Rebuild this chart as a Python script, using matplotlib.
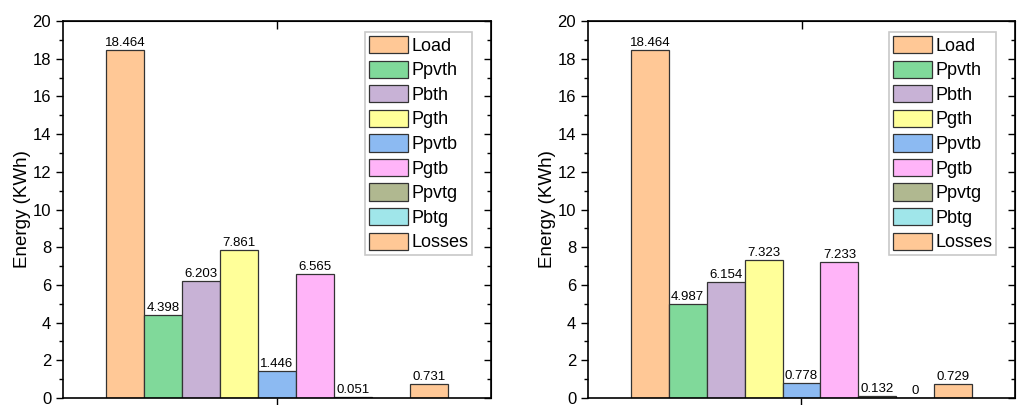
import numpy as np
import matplotlib.pyplot as plt
from matplotlib.patches import Patch

plt.rcParams['font.family'] = ['Liberation Sans', 'DejaVu Sans']

series = ['Load', 'Ppvth', 'Pbth', 'Pgth', 'Ppvtb', 'Pgtb', 'Ppvtg', 'Pbtg', 'Losses']
colors = ['#FFC896', '#80D99A', '#C8B2D6', '#FFFF99', '#8CBAF2',
          '#FFB4F8', '#B0B890', '#A0E6EA', '#FFC896']
left_vals = [18.464, 4.398, 6.203, 7.861, 1.446, 6.565, 0.051, None, 0.731]
right_vals = [18.464, 4.987, 6.154, 7.323, 0.778, 7.233, 0.132, 0, 0.729]


def panel(ax, vals):
    n = len(series)
    for i, (v, c) in enumerate(zip(vals, colors)):
        if v is None:
            continue
        x = i - (n - 1) / 2
        ax.bar(x, v, width=1.0, color=c, edgecolor='#333333', linewidth=0.9)
        ax.text(x, v + 0.05, f'{v:g}' if v == 0 else f'{v:.3f}',
                ha='center', va='bottom', fontsize=9.5)
    ax.set_xlim(-5.63, 5.63)
    ax.set_ylim(0, 20)
    ax.set_yticks(np.arange(0, 21, 2))
    ax.set_yticks(np.arange(1, 20, 2), minor=True)
    ax.set_xticks([0])
    ax.set_xticklabels([''])
    ax.tick_params(axis='y', which='major', direction='out', length=5, width=1, labelsize=12)
    ax.tick_params(axis='y', which='minor', direction='out', length=3, width=1)
    ax.tick_params(axis='x', direction='out', length=6, width=1)
    for s in ax.spines.values():
        s.set_linewidth(1.2)
    ax.set_ylabel('Energy (KWh)', fontsize=13.5, labelpad=1)

    sec_y = ax.secondary_yaxis('right')
    sec_y.set_yticks(np.arange(0, 21, 2))
    sec_y.set_yticks(np.arange(1, 20, 2), minor=True)
    sec_y.tick_params(which='major', direction='in', length=5, width=1, labelright=False)
    sec_y.tick_params(which='minor', direction='in', length=3, width=1)
    sec_x = ax.secondary_xaxis('top')
    sec_x.set_xticks([0])
    sec_x.tick_params(direction='in', length=6, width=1, labeltop=False)

    handles = [Patch(facecolor=c, edgecolor='#333333', linewidth=0.9, label=s)
               for s, c in zip(series, colors)]
    leg = ax.legend(handles=handles, loc='upper right', bbox_to_anchor=(0.955, 0.97),
                    fontsize=13, frameon=True, fancybox=False, edgecolor='#BBBBBB',
                    handlelength=2.2, handleheight=1.1, handletextpad=0.15,
                    labelspacing=0.32, borderpad=0.2, borderaxespad=0)
    leg.get_frame().set_linewidth(1.2)


fig = plt.figure(figsize=(10.2, 4.05), dpi=100)
ax1 = fig.add_axes([63 / 1020, 1 - 398 / 405, 428 / 1020, 377 / 405])
ax2 = fig.add_axes([588 / 1020, 1 - 398 / 405, 427 / 1020, 377 / 405])
panel(ax1, left_vals)
panel(ax2, right_vals)

fig.savefig('out.png', dpi=100)
